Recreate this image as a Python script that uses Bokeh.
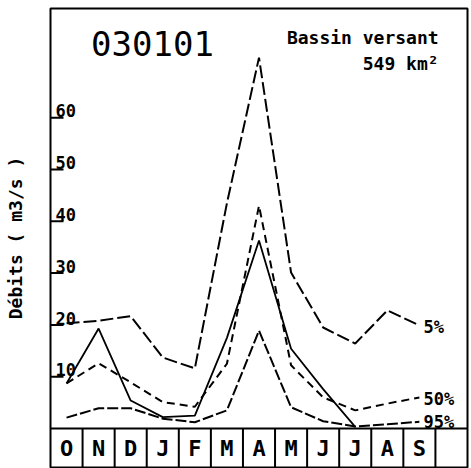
import math
from bokeh.plotting import figure
from bokeh.models import Range1d
from bokeh.core.properties import value
from bokeh.embed import file_html
from bokeh.resources import INLINE

# ---- data ----
months = ["O", "N", "D", "J", "F", "M", "A", "M", "J", "J", "A", "S"]
q05 = [20.3, 20.8, 21.7, 13.7, 11.6, 43.5, 71.6, 30.1, 19.5, 16.4, 22.8, 19.9]
q50 = [8.7, 12.6, 8.9, 5.1, 4.2, 12.5, 43.0, 12.2, 6.0, 3.5, 4.8, 6.0]
q95 = [2.1, 3.9, 3.9, 1.9, 1.2, 3.5, 18.9, 4.1, 1.4, 0.4, 0.8, 1.3]
year = [8.7, 19.3, 5.4, 2.2, 2.5, 17.5, 36.3, 15.4, 7.6, 0.3, math.nan, math.nan]
y_ticks = [10, 20, 30, 40, 50, 60]
series_labels = ["5%", "50%", "95%"]

FONT = "DejaVu Sans Mono"
idx = list(range(len(months)))
X0, X1 = -0.5, 12.5
Y0, Y1 = -7.53, 81.08

p = figure(width=469, height=468, output_backend="svg", toolbar_location=None,
           x_range=Range1d(X0, X1), y_range=Range1d(Y0, Y1),
           min_border_left=50, min_border_right=2, min_border_top=8, min_border_bottom=1)
p.xaxis.visible = False
p.grid.visible = False
p.outline_line_color = "black"
p.outline_line_width = 2
p.outline_line_alpha = 1.0
p.background_fill_color = "white"
p.border_fill_color = "white"

ya = p.yaxis[0]
ya.ticker = y_ticks
ya.major_tick_line_color = None
ya.minor_tick_line_color = None
ya.axis_line_color = None
ya.major_label_overrides = {t: "" for t in y_ticks}
ya.major_label_standoff = 0
ya.major_tick_out = 0
ya.major_tick_in = 0
ya.axis_label = "Débits ( m3/s )"
ya.axis_label_text_font = FONT
ya.axis_label_text_font_size = "18px"
ya.axis_label_text_font_style = "bold"
ya.axis_label_text_color = "black"
ya.axis_label_standoff = 25

# tick marks pointing into the frame, labels above them
tick_len = 13 / 32.08
p.segment(x0=X0, y0=y_ticks, x1=X0 + tick_len, y1=y_ticks, line_color="black", line_width=2)
p.text(x=X0 + 0.156, y=[t + 1.3 for t in y_ticks], text=[str(t) for t in y_ticks],
       text_font=value(FONT), text_font_size="17px", text_font_style="bold",
       text_align="left", text_baseline="alphabetic", text_color="black")

# month boxes row
sep_x = [i + 0.5 for i in idx]
p.segment(x0=sep_x, y0=Y0, x1=sep_x, y1=0, line_color="black", line_width=2)
p.segment(x0=X0, y0=0, x1=X1, y1=0, line_color="black", line_width=2)
p.text(x=idx, y=-3.9, text=months, text_font=value(FONT), text_font_size="22px",
       text_font_style="bold", text_align="center", text_baseline="middle", text_color="black")

# curves
p.line(idx, q05, line_color="black", line_width=2, line_dash="13 4")
p.line(idx, q50, line_color="black", line_width=2, line_dash="8 5")
p.line(idx, q95, line_color="black", line_width=2, line_dash="11 3")
p.line(idx, year, line_color="black", line_width=1.8)

# curve labels
p.text(x=[11.13, 11.13, 11.13], y=[19.5, 5.6, 1.3], text=series_labels,
       text_font=value(FONT), text_font_size="17px", text_font_style="bold",
       text_align="left", text_baseline="alphabetic", text_color="black")

# titles
p.text(x=[2.68], y=[74.3], text=["030101"], text_font=value(FONT), text_font_size="34px",
       text_align="center", text_baseline="alphabetic", text_color="black")
p.text(x=[11.6, 11.6], y=[75.5, 70.5], text=["Bassin versant", "549 km²"],
       text_font=value(FONT), text_font_size="18px", text_font_style="bold",
       text_align="right", text_baseline="alphabetic", text_color="black")

open("out.html", "w").write(file_html(p, INLINE))
